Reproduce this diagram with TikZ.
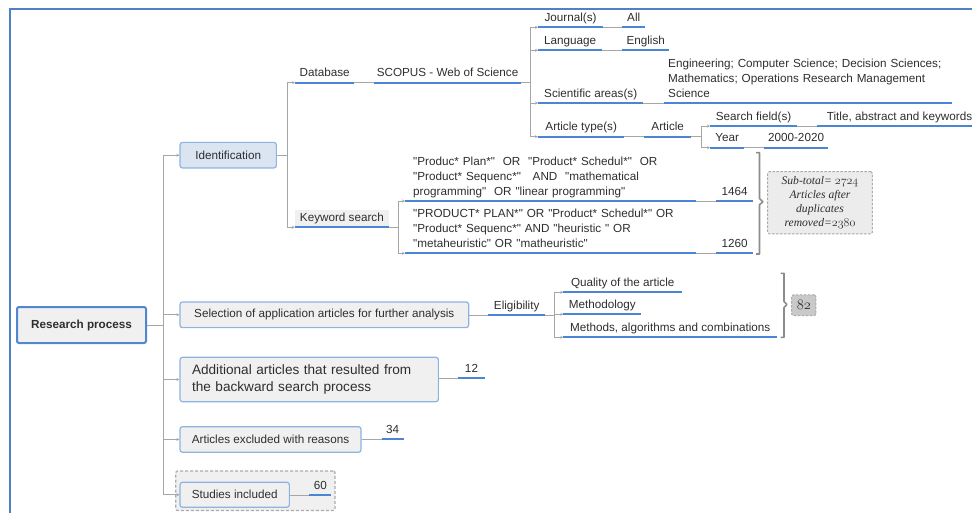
\documentclass[tikz,border=0pt]{standalone}
\usepackage{fontspec}
\setmainfont{Liberation Sans}[Ligatures=TeXOff]
\newfontfamily\noteserif{Liberation Serif}
\usetikzlibrary{arrows.meta}
\definecolor{ulblue}{HTML}{4A86D4}
\definecolor{linkgray}{HTML}{A6A6A6}
\definecolor{boxedge}{HTML}{8DB3E2}
\definecolor{rootedge}{HTML}{5087CF}
\definecolor{frameblue}{HTML}{4F81C7}
\definecolor{idfill}{HTML}{DBE5F1}
\definecolor{boxfill}{HTML}{F0F0F0}
\definecolor{notefill}{HTML}{ECECEC}
\definecolor{totfill}{HTML}{C9C9C9}
\definecolor{dashgray}{HTML}{ABABAB}
\definecolor{bracegray}{HTML}{8C8C8C}
\definecolor{ink}{HTML}{2E2E2E}
% old-style digits and italic serif for the count notes
\newcommand\osn[1]{{\usefont{OML}{cmm}{m}{it}#1}}
\newcommand\notefont{\noteserif\itshape}
% straight double quote
\newcommand\dq{\char34\relax}
\begin{document}
\begin{tikzpicture}[x=1pt,y=-1pt,
  font=\fontsize{11.7}{14.8}\selectfont, text=ink,
  link/.style={draw=linkgray, line width=0.8pt, -{Stealth[length=3pt,width=3pt]}},
  plain/.style={draw=linkgray, line width=0.8pt},
  ulline/.style={draw=ulblue, line width=1.8pt},
  ulbase/.style={anchor=south west, inner xsep=0pt,
     append after command={(\tikzlastnode.south west) edge[ulline] (\tikzlastnode.south east)}},
  lbl/.style={ulbase, inner ysep=2.6pt, text height=9pt, text depth=3pt, align=center},
  mlbl/.style={ulbase, inner ysep=1.2pt, align=left, execute at end node={\strut}},
  catbox/.style={draw=boxedge, line width=1.2pt, fill=boxfill, rounded corners=2.5pt,
     inner sep=0pt, minimum height=25.6pt},
  rootbox/.style={draw=rootedge, line width=2pt, fill=boxfill, rounded corners=2pt,
     inner sep=0pt, minimum width=129pt, minimum height=36pt},
  note/.style={draw=dashgray, dashed, dash pattern=on 2.5pt off 1.5pt, line width=1pt,
     fill=notefill, rounded corners=1.5pt, inner sep=0pt, align=center,
     font=\fontsize{11.6}{13.9}\selectfont\notefont},
  brace/.style={draw=bracegray, line width=1.6pt, line join=round}
]
\useasboundingbox (0,0) rectangle (972,513);

% outer frame
\draw[frameblue, line width=2pt] (10,513) -- (10,9.5) -- (972,9.5);

% root and first-level topics
\node[rootbox] (root) at (81.5,325) {\bfseries Research process};
\node[catbox, fill=idfill, minimum width=96.3pt] (ident) at (228.2,155.2) {Identification};
\node[catbox, minimum width=288.7pt] (sel) at (324.3,314.8) {Selection of application articles for further analysis};
\node[catbox, minimum height=44.4pt, inner xsep=12pt, text width=234.3pt, align=left,
      font=\fontsize{13.6}{16.7}\selectfont] (add) at (309.2,379.5)
      {Additional articles that resulted from\\ the backward search process};
\node[catbox, minimum width=181pt] (excl) at (270.5,439.5) {Articles excluded with reasons};
\node[draw=dashgray, dashed, dash pattern=on 3pt off 2pt, line width=1.2pt, fill=boxfill,
      rounded corners=2pt, minimum width=159.3pt, minimum height=39.5pt] (incl) at (255.35,490.75) {};
\node[catbox, minimum width=109.3pt, minimum height=25pt] (stud) at (234.7,494.8) {Studies included};

\foreach \t in {ident,sel,add,excl,stud}
  \draw[link] (root.east) -- ++(16.5,0) |- (\t.west);

% identification: database branch
\node[lbl, minimum width=59pt] (db) at (295,82.7) {Database};
\node[lbl, minimum width=146.7pt] (scopus) at (374,82.7) {SCOPUS - Web of Science};
\node[lbl, minimum width=64.7pt] (jour) at (538,27.3) {Journal(s)};
\node[lbl, minimum width=23pt] (all) at (622,27.3) {All};
\node[lbl, minimum width=63.7pt] (lang) at (538,50.3) {Language};
\node[lbl, minimum width=47pt] (engl) at (622,50.3) {English};
\node[lbl, minimum width=105pt] (sci) at (538,103) {Scientific areas(s)};
\node[mlbl, inner xsep=4pt, text width=279.7pt] (areas) at (664,103)
  {Engineering; Computer Science; Decision Sciences;\\ Mathematics; Operations Research Management\\ Science};
\node[lbl, minimum width=86pt] (atype) at (538,136.7) {Article type(s)};
\node[lbl, minimum width=47pt] (art) at (644,136.7) {Article};
\node[lbl, minimum width=86.7pt] (sfield) at (710,126) {Search field(s)};
\node[lbl, inner xsep=10pt] (title) at (816.7,126) {Title, abstract and keywords};
\node[lbl, minimum width=34pt] (year) at (710,147.7) {Year};
\node[lbl, minimum width=63.7pt] (yrs) at (764,147.7) {2000-2020};

% identification: keyword branch
\node[lbl, minimum width=94pt, fill=boxfill] (kw) at (294.7,227.3) {Keyword search};
\node[mlbl, inner xsep=8pt, text width=275pt] (q1) at (405,201)
  {\dq Produc* Plan*\dq\ \ OR\ \ \dq Product* Schedul*\dq\ \ OR\\
   \dq Product* Sequenc*\dq\ \ \ AND\ \ \dq mathematical\\
   programming\dq\ \ OR \dq linear programming\dq};
\node[mlbl, inner xsep=8pt, text width=275pt] (q2) at (405,253.3)
  {\dq PRODUCT* PLAN*\dq\ OR \dq Product* Schedul*\dq\ OR\\
   \dq Product* Sequenc*\dq\ AND \dq heuristic \dq\ OR\\
   \dq metaheuristic\dq\ OR \dq matheuristic\dq};
\node[lbl, minimum width=36.7pt] (n1464) at (716,201) {1464};
\node[lbl, minimum width=36.7pt] (n1260) at (716,253.3) {1260};

\draw[link] (ident.east) -- ++(10,0) |- (db.south west);
\draw[link] (ident.east) -- ++(10,0) |- (kw.south west);
\draw[plain] (db.south east) -- (scopus.south west);
\foreach \t in {jour,lang,sci,atype}
  \draw[link] (scopus.south east) -- ++(9.3,0) |- (\t.south west);
\draw[plain] (jour.south east) -- (all.south west);
\draw[plain] (lang.south east) -- (engl.south west);
\draw[plain] (sci.south east) -- (areas.south west);
\draw[plain] (atype.south east) -- (art.south west);
\foreach \t in {sfield,year}
  \draw[link] (art.south east) -- ++(9.7,0) |- (\t.south west);
\draw[plain] (sfield.south east) -- (title.south west);
\draw[plain] (year.south east) -- (yrs.south west);
\foreach \t in {q1,q2}
  \draw[link] (kw.south east) -- ++(9.6,0) |- (\t.south west);
\draw[plain] (q1.south east) -- (n1464.south west);
\draw[plain] (q2.south east) -- (n1260.south west);

% search totals
\draw[brace] (756,152.7) -- (759.5,152.7) -- (759.5,198.6) -- (762.8,201.7) -- (759.5,204.8) -- (759.5,254) -- (756,254);
\node[note, minimum width=104.6pt, minimum height=62.3pt] (sub) at (820,202.8)
  {Sub-total= \osn{2724}\\ Articles after\\ duplicates\\ removed=\osn{2380}};

% selection branch
\node[lbl, minimum width=57pt] (elig) at (488,315) {Eligibility};
\node[lbl, minimum width=118.4pt] (qual) at (563.3,292.3) {Quality of the article};
\node[lbl, minimum width=77.7pt] (meth) at (563.3,314.3) {Methodology};
\node[lbl, minimum width=213.4pt] (malg) at (563.3,337.3) {Methods, algorithms and combinations};
\draw[plain] (sel.east |- elig.south west) -- (elig.south west);
\foreach \t in {qual,meth,malg}
  \draw[link] (elig.south east) -- ++(9,0) |- (\t.south west);
\draw[brace] (780.7,273.3) -- (784,273.3) -- (784,301.5) -- (786.9,304.5) -- (784,307.5) -- (784,337.3) -- (780.7,337.3);
\node[note, fill=totfill, minimum width=24.3pt, minimum height=20.7pt,
      font=\fontsize{14}{16}\selectfont] (tot) at (803.8,305.3) {\osn{82}};

% remaining counts
\node[lbl, minimum width=26pt] (n12) at (458.3,378.3) {12};
\node[lbl, minimum width=21.6pt] (n34) at (381.7,439) {34};
\node[lbl, minimum width=21.7pt] (n60) at (309.3,495) {60};
\draw[plain] (add.east |- n12.south west) -- (n12.south west);
\draw[plain] (excl.east |- n34.south west) -- (n34.south west);
\draw[plain] (stud.east |- n60.south west) -- (n60.south west);
\end{tikzpicture}
\end{document}
